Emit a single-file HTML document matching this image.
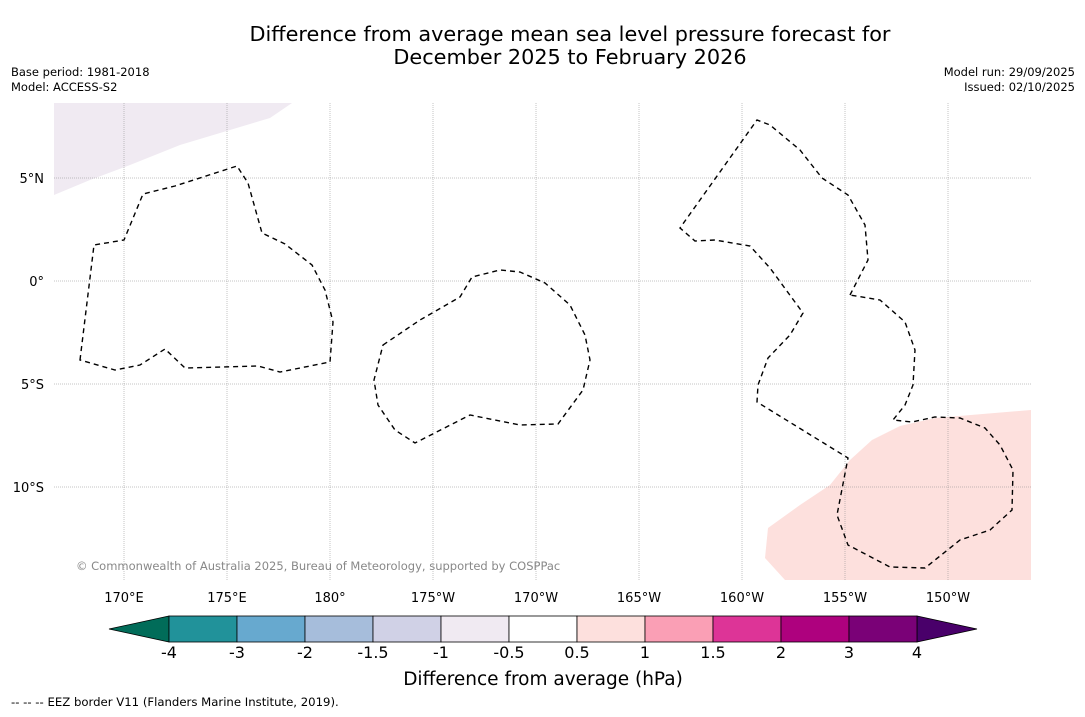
<!DOCTYPE html>
<html><head><meta charset="utf-8"><style>
body{margin:0;background:#fff;font-family:"DejaVu Sans","Liberation Sans",sans-serif;}
svg text{font-family:"DejaVu Sans","Liberation Sans",sans-serif;}
</style></head><body>
<svg id="c" width="1085" height="713" xmlns="http://www.w3.org/2000/svg">
<rect width="1085" height="713" fill="#fff"/>
<text x="570" y="41" font-size="20.8" text-anchor="middle">Difference from average mean sea level pressure forecast for</text>
<text x="570" y="64" font-size="20.8" text-anchor="middle">December 2025 to February 2026</text>
<text x="11" y="76" font-size="11.5">Base period: 1981-2018</text>
<text x="11" y="91" font-size="11.5">Model: ACCESS-S2</text>
<text x="1075" y="76" font-size="11.5" text-anchor="end">Model run: 29/09/2025</text>
<text x="1075" y="91" font-size="11.5" text-anchor="end">Issued: 02/10/2025</text>
<g>
<path d="M54,103 L292,103 L270,118 L230,130 L180,145 L130,165 L90,180 L54,195 Z" fill="#f0eaf2"/>
<path d="M785,580 L765,558 L768,528 L800,505 L830,485 L850,460 L872,440 L900,426 L935,418 L1031,410 L1031,580 Z" fill="#fde0dd"/>
<g id="grid"></g>
<g fill="none" stroke="#000" stroke-width="1.4" stroke-dasharray="5,4">
<path d="M80,360 L94,245 L124,240 L143,194 L175,186 L237,166 L248,183 L262,233 L285,244 L312,265 L325,290 L333,322 L330,362 L280,372 L258,366 L185,368 L165,349 L140,365 L115,370 Z"/>
<path d="M383,345 L420,320 L460,297 L472,277 L500,270 L520,272 L545,283 L570,305 L585,335 L590,360 L583,390 L558,424 L520,425 L470,415 L415,443 L395,430 L378,405 L374,380 Z"/>
<path d="M850,295 L868,260 L865,225 L848,195 L822,178 L800,150 L770,125 L757,120 L680,228 L695,241 L715,240 L750,246 L770,268 L803,313 L790,335 L768,358 L758,385 L757,402 L848,458 L837,515 L848,545 L890,567 L925,568 L960,540 L990,530 L1012,510 L1013,470 L1000,445 L985,428 L960,418 L935,417 L912,422 L893,420 L905,405 L913,385 L915,350 L905,322 L880,300 Z"/>
</g>
<text x="76" y="570" font-size="11.5" fill="#888">© Commonwealth of Australia 2025, Bureau of Meteorology, supported by COSPPac</text>
</g>
<g id="cb"></g>
<text x="543" y="685" font-size="18.5" text-anchor="middle">Difference from average (hPa)</text>
<text x="11" y="706" font-size="11.7">--  --  -- EEZ border V11 (Flanders Marine Institute, 2019).</text>
</svg>
<script>
const lonLabels=["170°E","175°E","180°","175°W","170°W","165°W","160°W","155°W","150°W"];
const lonValues=[170,175,180,185,190,195,200,205,210];
const latLabels=["5°N","0°","5°S","10°S"];
const latValues=[5,0,-5,-10];
const cbBounds=["-4","-3","-2","-1.5","-1","-0.5","0.5","1","1.5","2","3","4"];
const cbColors=["#21929a","#67a9cf","#a6bddb","#d0d1e6","#f0eaf2","#ffffff","#fde0dd","#fa9fb5","#dd3497","#ae017e","#7a0177"];
const cbUnder="#016c59", cbOver="#49006a";
const NS="http://www.w3.org/2000/svg";
const xLon=l=>124+(l-170)*20.6, yLat=l=>281-l*20.6;
const g=document.getElementById('grid');
function mk(t,a,p){const e=document.createElementNS(NS,t);for(const k in a)e.setAttribute(k,a[k]);p.appendChild(e);return e;}
lonValues.forEach((v,i)=>{const x=xLon(v);
 const l=mk('line',{x1:x,x2:x,y1:103,y2:580,stroke:'#888','stroke-width':0.5,'stroke-dasharray':'1,1'},g);
 
 
 const t=mk('text',{x:x,y:602,'font-size':13,'text-anchor':'middle'},g);t.textContent=lonLabels[i];
 
 });
latValues.forEach((v,i)=>{const y=yLat(v);
 const l=mk('line',{x1:54,x2:1031,y1:y,y2:y,stroke:'#888','stroke-width':0.5,'stroke-dasharray':'1,1'},g);
 
 
 const t=mk('text',{x:44,y:y+5,'font-size':13,'text-anchor':'end'},g);t.textContent=latLabels[i];
 
 });
const cb=document.getElementById('cb');
const x0=169,w=68,y0=616,h=26;
const lt=mk('polygon',{points:`${x0},${y0} ${x0},${y0+h} ${x0-60},${y0+h/2}`,fill:cbUnder,stroke:'#000','stroke-width':0.8},cb);


const xe=x0+w*cbColors.length;
const rt=mk('polygon',{points:`${xe},${y0} ${xe},${y0+h} ${xe+60},${y0+h/2}`,fill:cbOver,stroke:'#000','stroke-width':0.8},cb);


cbColors.forEach((c,i)=>{const r=mk('rect',{x:x0+i*w,y:y0,width:w,height:h,fill:c,stroke:'#000','stroke-width':0.8},cb);
 
 });
cbBounds.forEach((b,i)=>{const t=mk('text',{x:x0+i*w,y:658,'font-size':16,'text-anchor':'middle'},cb);t.textContent=b;
 
 });
</script>
</body></html>
